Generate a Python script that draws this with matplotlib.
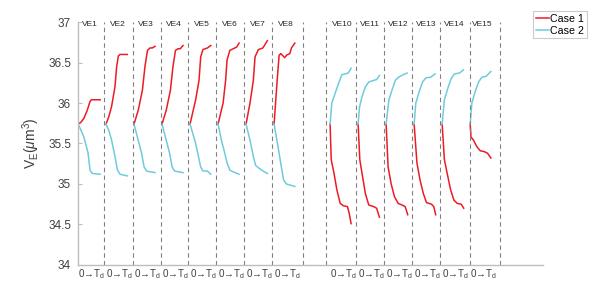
import matplotlib
matplotlib.use("Agg")
import matplotlib.pyplot as plt

plt.rcParams['font.family'] = ['Liberation Sans', 'DejaVu Sans']
plt.rcParams['mathtext.fontset'] = 'custom'
plt.rcParams['mathtext.rm'] = 'Liberation Sans'
plt.rcParams['mathtext.it'] = 'Liberation Sans:italic'

# segment names and where each segment starts on the x axis
ve_names = ['VE1', 'VE2', 'VE3', 'VE4', 'VE5', 'VE6', 'VE7', 'VE8',
            'VE10', 'VE11', 'VE12', 'VE13', 'VE14', 'VE15']
ve_start = [0, 1, 2, 3, 4, 5, 6, 7, 9, 10, 11, 12, 13, 14]
# dashed separators
sep_x = [0.93, 1.95, 2.95, 3.94, 4.92, 5.92, 6.92, 8.04,
         8.86, 9.92, 10.94, 11.94, 12.93, 13.99, 15.08]

# Case 1 (red): local time within segment and volume
case1_t = [
    [0, 0.10, 0.21, 0.33, 0.43, 0.48, 0.79],
    [0, 0.10, 0.20, 0.32, 0.38, 0.44, 0.50, 0.76],
    [0, 0.15, 0.30, 0.39, 0.48, 0.57, 0.65, 0.75],
    [0, 0.15, 0.30, 0.39, 0.48, 0.57, 0.65, 0.75],
    [0, 0.20, 0.32, 0.38, 0.46, 0.62, 0.74],
    [0, 0.18, 0.27, 0.32, 0.42, 0.54, 0.66, 0.75],
    [0, 0.14, 0.26, 0.32, 0.44, 0.60, 0.76],
    [0, 0.11, 0.18, 0.24, 0.38, 0.44, 0.56, 0.62, 0.74],
    [0, 0.04, 0.14, 0.24, 0.36, 0.48, 0.62, 0.68, 0.75],
    [0, 0.06, 0.14, 0.26, 0.38, 0.56, 0.66, 0.76],
    [0, 0.07, 0.18, 0.30, 0.43, 0.57, 0.68, 0.77],
    [0, 0.10, 0.21, 0.33, 0.44, 0.62, 0.70, 0.77],
    [0, 0.08, 0.18, 0.30, 0.42, 0.54, 0.68, 0.77],
    [0, 0.03, 0.12, 0.24, 0.36, 0.50, 0.62, 0.74],
]
case1_v = [
    [35.74, 35.76, 35.81, 35.91, 36.02, 36.04, 36.04],
    [35.74, 35.83, 35.96, 36.20, 36.45, 36.58, 36.60, 36.60],
    [35.74, 35.91, 36.16, 36.45, 36.65, 36.68, 36.68, 36.70],
    [35.74, 35.91, 36.16, 36.45, 36.65, 36.67, 36.67, 36.71],
    [35.74, 36.04, 36.28, 36.57, 36.66, 36.68, 36.71],
    [35.74, 36.00, 36.28, 36.53, 36.65, 36.67, 36.69, 36.74],
    [35.74, 36.00, 36.28, 36.57, 36.66, 36.68, 36.77],
    [35.74, 36.28, 36.59, 36.61, 36.56, 36.59, 36.61, 36.68, 36.74],
    [35.74, 35.30, 35.13, 34.93, 34.76, 34.73, 34.72, 34.64, 34.51],
    [35.74, 35.30, 35.13, 34.88, 34.74, 34.72, 34.70, 34.59],
    [35.74, 35.21, 35.00, 34.84, 34.76, 34.74, 34.72, 34.62],
    [35.74, 35.26, 35.05, 34.88, 34.77, 34.75, 34.72, 34.62],
    [35.74, 35.30, 35.13, 34.93, 34.80, 34.76, 34.75, 34.70],
    [35.74, 35.58, 35.54, 35.46, 35.41, 35.40, 35.38, 35.32],
]

# Case 2 (cyan)
case2_t = [
    [0, 0.10, 0.21, 0.36, 0.43, 0.51, 0.79],
    [0, 0.10, 0.20, 0.32, 0.41, 0.50, 0.76],
    [0, 0.15, 0.27, 0.36, 0.45, 0.59, 0.75],
    [0, 0.15, 0.27, 0.36, 0.45, 0.59, 0.75],
    [0, 0.20, 0.30, 0.38, 0.46, 0.62, 0.74],
    [0, 0.12, 0.24, 0.32, 0.42, 0.54, 0.75],
    [0, 0.14, 0.26, 0.34, 0.44, 0.56, 0.76],
    [0, 0.14, 0.26, 0.34, 0.44, 0.74],
    [0, 0.06, 0.18, 0.30, 0.42, 0.54, 0.65, 0.75],
    [0, 0.05, 0.14, 0.26, 0.38, 0.56, 0.66, 0.76],
    [0, 0.10, 0.21, 0.33, 0.45, 0.61, 0.75],
    [0, 0.06, 0.18, 0.30, 0.42, 0.60, 0.75],
    [0, 0.08, 0.20, 0.32, 0.44, 0.62, 0.76],
    [0, 0.06, 0.18, 0.30, 0.42, 0.57, 0.74],
]
case2_v = [
    [35.74, 35.67, 35.58, 35.38, 35.17, 35.13, 35.12],
    [35.74, 35.66, 35.54, 35.34, 35.17, 35.12, 35.10],
    [35.74, 35.54, 35.38, 35.21, 35.16, 35.15, 35.14],
    [35.74, 35.54, 35.38, 35.21, 35.16, 35.15, 35.14],
    [35.74, 35.50, 35.34, 35.21, 35.16, 35.16, 35.12],
    [35.74, 35.54, 35.38, 35.26, 35.17, 35.15, 35.12],
    [35.74, 35.54, 35.34, 35.23, 35.20, 35.17, 35.13],
    [35.74, 35.46, 35.21, 35.05, 35.00, 34.97],
    [35.74, 36.00, 36.12, 36.24, 36.35, 36.36, 36.37, 36.43],
    [35.74, 35.95, 36.08, 36.20, 36.26, 36.28, 36.29, 36.34],
    [35.74, 36.04, 36.16, 36.28, 36.32, 36.35, 36.37],
    [35.74, 36.00, 36.14, 36.26, 36.31, 36.32, 36.36],
    [35.74, 36.04, 36.18, 36.30, 36.36, 36.37, 36.41],
    [35.74, 36.00, 36.14, 36.26, 36.32, 36.33, 36.39],
]

red = '#ec1c24'
cyan = '#6fcbdc'

fig = plt.figure(figsize=(6, 2.98), dpi=100)
ax = fig.add_axes([0.13, 0.111, 0.775, 0.815])

for k in range(len(ve_names)):
    x0 = ve_start[k]
    ax.plot([x0 + t for t in case1_t[k]], case1_v[k], color=red, lw=1.1,
            label='Case 1' if k == 0 else None)
    ax.plot([x0 + t for t in case2_t[k]], case2_v[k], color=cyan, lw=1.1,
            label='Case 2' if k == 0 else None)
    ax.text(x0 + 0.42, 36.965, ve_names[k], ha='center', va='center',
            fontsize=6, color='#262626')

for xs in sep_x:
    ax.plot([xs, xs], [34, 37], color='#808080', lw=0.8, ls=(0, (4, 3)))

ax.set_xlim(0, 16.6)
ax.set_ylim(34, 37)
ax.set_yticks([34, 34.5, 35, 35.5, 36, 36.5, 37])
ax.set_yticklabels(['34', '34.5', '35', '35.5', '36', '36.5', '37'])
ax.set_xticks(ve_start)
ax.set_xticklabels(['0→T$_\\mathregular{d}$'] * len(ve_start), ha='left')
ax.tick_params(axis='x', length=0, pad=2, labelsize=7.1, colors='#404040')
ax.tick_params(axis='y', direction='in', length=3, width=0.6, pad=5,
               labelsize=8.5, colors='#404040')
ax.tick_params(axis='y', color='#b0b0b0')

for s in ['top', 'right']:
    ax.spines[s].set_visible(False)
for s in ['left', 'bottom']:
    ax.spines[s].set_color('#bdbdbd')
    ax.spines[s].set_linewidth(1.0)

ax.set_ylabel(r'V$_\mathregular{E}$($\mu$m$^3$)', fontsize=10, color='#404040',
              labelpad=4)

leg = fig.legend(loc='upper right', bbox_to_anchor=(0.978, 0.962), fontsize=7.7,
                 frameon=True, fancybox=False, handlelength=1.2, handletextpad=0.15,
                 borderpad=0.25, labelspacing=0.15, borderaxespad=0)
leg.get_frame().set_edgecolor('#bfbfbf')
leg.get_frame().set_linewidth(0.8)

fig.savefig('out.png', dpi=100)
